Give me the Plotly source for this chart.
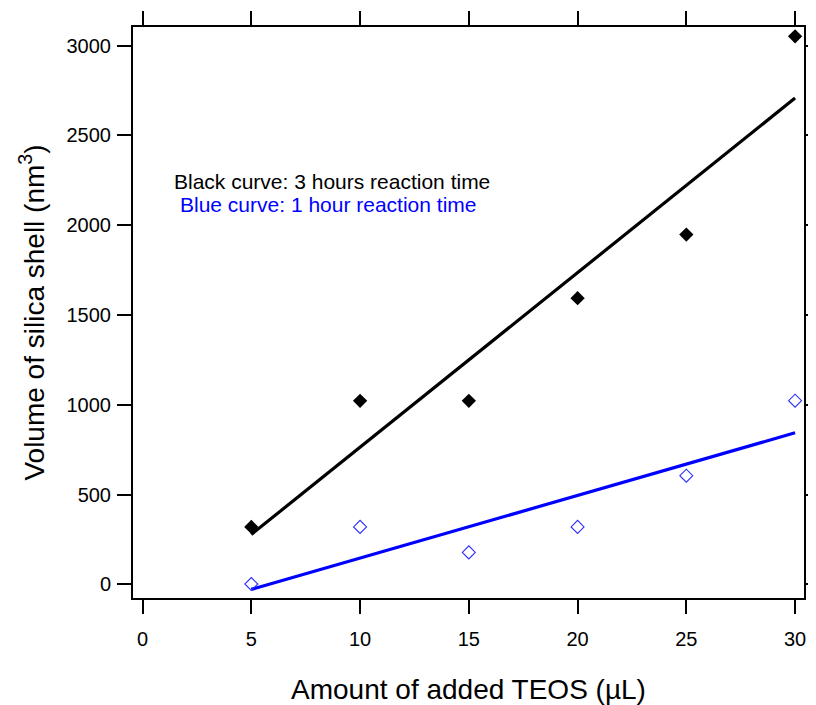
import numpy as np
import plotly.graph_objects as go

# Data
teos_ul = [5, 10, 15, 20, 25, 30]
vol_3h = [320, 1022, 1022, 1594, 1948, 3052]
vol_1h = [2, 320, 178, 320, 605, 1023]
x_ticks = [0, 5, 10, 15, 20, 25, 30]
y_ticks = [0, 500, 1000, 1500, 2000, 2500, 3000]

FONT = "Arial, 'Liberation Sans', sans-serif"

# Linear least-squares fits (as drawn in the reference)
fit_x = [min(teos_ul), max(teos_ul)]
p3 = np.polyfit(teos_ul, vol_3h, 1)
p1 = np.polyfit(teos_ul, vol_1h, 1)
fit_3h = list(np.polyval(p3, fit_x))
fit_1h = list(np.polyval(p1, fit_x))

fig = go.Figure()
fig.add_trace(go.Scatter(x=fit_x, y=fit_3h, mode="lines",
                         line=dict(color="black", width=3.2), showlegend=False))
fig.add_trace(go.Scatter(x=fit_x, y=fit_1h, mode="lines",
                         line=dict(color="#0000ff", width=3.2), showlegend=False))
fig.add_trace(go.Scatter(x=teos_ul, y=vol_3h, mode="markers",
                         marker=dict(symbol="diamond", size=11, color="black",
                                     line=dict(width=0)), showlegend=False))
fig.add_trace(go.Scatter(x=teos_ul, y=vol_1h, mode="markers",
                         marker=dict(symbol="diamond-open", size=10, color="#2b2bff",
                                     line=dict(width=1.1)), showlegend=False))

axis_common = dict(
    showline=True, linecolor="black", linewidth=2, mirror="ticks",
    ticks="outside", ticklen=14, tickwidth=2, tickcolor="black",
    showgrid=False, zeroline=False, automargin=False,
    tickfont=dict(family=FONT, size=20, color="black"),
)

fig.update_xaxes(range=[-0.44, 30.41], tickvals=x_ticks,
                 title=dict(text="Amount of added TEOS (µL)", standoff=30,
                            font=dict(family=FONT, size=28, color="black")),
                 ticklabelstandoff=8,
                 **axis_common)
fig.update_yaxes(range=[-76, 3104], tickvals=y_ticks,
                 title=dict(text="Volume of silica shell (nm<sup>3</sup>)", standoff=14,
                            font=dict(family=FONT, size=28, color="black")),
                 ticklabelstandoff=2,
                 **axis_common)

fig.add_annotation(text="Black curve: 3 hours reaction time", xref="paper", yref="paper",
                   x=0.058, y=0.730, xanchor="left", yanchor="middle", showarrow=False,
                   font=dict(family=FONT, size=21, color="black"))
fig.add_annotation(text="Blue curve: 1 hour reaction time", xref="paper", yref="paper",
                   x=0.067, y=0.690, xanchor="left", yanchor="middle", showarrow=False,
                   font=dict(family=FONT, size=21, color="#0000ff"))

# page body has an 8px default margin, so the figure is sized to fit the window
fig.update_layout(
    width=808, height=697,
    margin=dict(l=125, r=12, t=19, b=107),
    paper_bgcolor="white", plot_bgcolor="white",
    font=dict(family=FONT, color="black"),
)

fig.write_html("out.html")
